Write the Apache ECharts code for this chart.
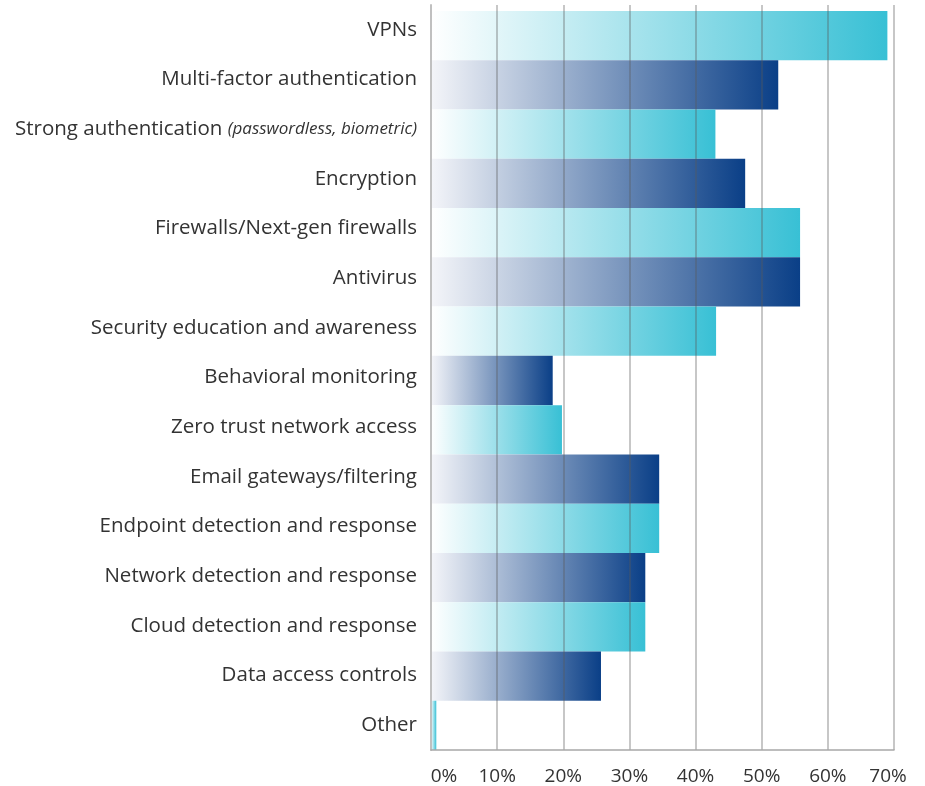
<!DOCTYPE html>
<html>
<head>
<meta charset="utf-8">
<script src="https://cdn.jsdelivr.net/npm/echarts@6/dist/echarts.min.js"></script>
<style>
  html, body { margin: 0; padding: 0; background: #fff; }
  #chart { width: 925px; height: 786px; }
</style>
</head>
<body>
<div id="chart"></div>
<script>
// Security technologies in use, share of respondents (%)
const categories = [
  'VPNs',
  'Multi-factor authentication',
  'Strong authentication (passwordless, biometric)',
  'Encryption',
  'Firewalls/Next-gen firewalls',
  'Antivirus',
  'Security education and awareness',
  'Behavioral monitoring',
  'Zero trust network access',
  'Email gateways/filtering',
  'Endpoint detection and response',
  'Network detection and response',
  'Cloud detection and response',
  'Data access controls',
  'Other'
];
const shares = [69, 52.5, 43, 47.5, 55.8, 55.8, 43.1, 18.4, 19.8, 34.5, 34.5, 32.4, 32.4, 25.7, 0.8];
const tickLabels = ['0%', '10%', '20%', '30%', '40%', '50%', '60%', '70%'];

const FONT = 'Open Sans, Noto Sans, sans-serif';
const TEXT = '#333333';

function fade(from, to) {
  return new echarts.graphic.LinearGradient(0, 0, 1, 0, [
    { offset: 0, color: from },
    { offset: 1, color: to }
  ]);
}
const teal = fade('#ffffff', '#38c0d5');
const navy = fade('#f4f5f9', '#0a3f87');

const chart = echarts.init(document.getElementById('chart'), null, { renderer: 'canvas' });

chart.setOption({
  animation: false,
  backgroundColor: '#ffffff',
  grid: [
    // frame: gridlines, tick labels and category labels
    { left: 431, right: 31, top: 5, bottom: 36 },
    // bars
    { left: 431, right: 31, top: 11, bottom: 36 }
  ],
  xAxis: [
    {
      gridIndex: 0,
      type: 'value',
      min: 0, max: 70, interval: 10,
      z: 10,
      axisLine: { show: true, lineStyle: { color: '#a8a8a8', width: 1.5 } },
      axisTick: { show: false },
      splitLine: { show: true, lineStyle: { color: 'rgba(90,90,90,0.45)', width: 1.5 } },
      axisLabel: {
        margin: 17,
        fontFamily: FONT, fontSize: 19, color: TEXT,
        formatter: function (v) {
          const s = tickLabels[Math.round(v / 10)];
          if (v === 0) return '{first|' + s + '}';
          if (v === 70) return '{last|' + s + '}';
          return s;
        },
        rich: {
          first: { fontFamily: FONT, fontSize: 19, color: TEXT, padding: [0, 0, 0, 26] },
          last: { fontFamily: FONT, fontSize: 19, color: TEXT, padding: [0, 12, 0, 0] }
        }
      }
    },
    {
      gridIndex: 1,
      type: 'value',
      min: 0, max: 70, interval: 10,
      show: false
    }
  ],
  yAxis: [
    {
      gridIndex: 0,
      type: 'category',
      inverse: true,
      data: categories,
      z: 10,
      axisLine: { show: true, lineStyle: { color: '#c0c0c0', width: 2 } },
      axisTick: { show: false },
      axisLabel: {
        margin: 14,
        fontFamily: FONT, fontSize: 20.5, color: TEXT,
        formatter: function (name) {
          const i = name.indexOf(' (');
          if (i < 0) return name;
          return name.slice(0, i) + ' {note|' + name.slice(i + 1) + '}';
        },
        rich: {
          note: { fontFamily: FONT, fontSize: 17, fontStyle: 'italic', color: TEXT }
        }
      }
    },
    {
      gridIndex: 1,
      type: 'category',
      inverse: true,
      data: categories,
      show: false
    }
  ],
  series: [
    {
      type: 'bar',
      xAxisIndex: 1,
      yAxisIndex: 1,
      barWidth: '100%',
      data: shares.map((v, i) => ({
        value: v,
        itemStyle: { color: i % 2 === 0 ? teal : navy }
      }))
    }
  ]
});
</script>
</body>
</html>
